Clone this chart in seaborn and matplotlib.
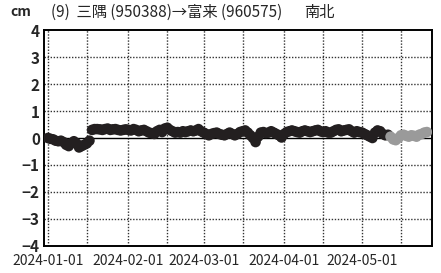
import pandas as pd
import numpy as np
import matplotlib.pyplot as plt
import seaborn as sns

sns.set_theme(style="white")
plt.rcParams['font.family'] = ['Noto Sans CJK JP', 'DejaVu Sans']

# daily displacement (cm), north-south component
black_vals = [0.00, -0.03, -0.05, -0.10, -0.12, -0.10, -0.15, -0.25, -0.30, -0.20, -0.12, -0.20, -0.35, -0.30, -0.25, -0.20, -0.10,
              0.30, 0.33, 0.33, 0.32, 0.30, 0.33, 0.35, 0.30, 0.32, 0.33, 0.30, 0.28, 0.30, 0.32,
              0.30, 0.28, 0.33, 0.30, 0.25, 0.28, 0.30, 0.25, 0.20, 0.18, 0.15, 0.25, 0.30, 0.22, 0.35,
              0.38, 0.30, 0.25, 0.20, 0.22, 0.20, 0.25, 0.22, 0.25, 0.28, 0.25, 0.28,
              0.33, 0.25, 0.20, 0.15, 0.10, 0.15, 0.18, 0.20, 0.15, 0.12, 0.10, 0.15, 0.20, 0.15, 0.10, 0.15, 0.22, 0.25,
              0.28, 0.20, 0.10, 0.00, -0.15, 0.05, 0.20, 0.22, 0.18, 0.20, 0.25, 0.20, 0.15, 0.10, 0.02,
              0.15, 0.22, 0.25, 0.28, 0.25, 0.22, 0.20, 0.25, 0.28, 0.25, 0.22, 0.25, 0.28, 0.30, 0.25, 0.22, 0.25, 0.20,
              0.20, 0.25, 0.30, 0.32, 0.25, 0.28, 0.30, 0.32, 0.25, 0.20, 0.25, 0.22, 0.20, 0.15, 0.10, 0.05, 0.00, 0.20,
              0.28, 0.25, 0.15, 0.10, 0.12]
gray_vals = [0.05, -0.05, -0.08, 0.00, 0.10, 0.12, 0.08, 0.05, 0.10, 0.08, 0.05, 0.12, 0.15, 0.20, 0.22]

start = "2024-01-01"
tick_labels = ["2024-01-01", "2024-02-01", "2024-03-01", "2024-04-01", "2024-05-01"]
grid_dates = ["2024-01-01", "2024-01-16", "2024-02-01", "2024-02-16", "2024-03-01",
              "2024-03-16", "2024-04-01", "2024-04-16", "2024-05-01", "2024-05-16"]
y_ticks = [-4, -3, -2, -1, 0, 1, 2, 3, 4]
y_grid = [-3, -2, -1, 1, 2, 3]

dates = pd.date_range(start, periods=len(black_vals) + len(gray_vals), freq="D")
df = pd.DataFrame({
    "date": dates,
    "value": black_vals + gray_vals,
    "kind": ["final"] * len(black_vals) + ["rapid"] * len(gray_vals),
})

fig = plt.figure(figsize=(4.41, 2.73), dpi=100)
ax = fig.add_axes([0.0998, 0.099, 0.88, 0.791])

sns.scatterplot(data=df, x="date", y="value", hue="kind",
                palette={"final": "#231f20", "rapid": "#9a9a9a"},
                s=58, edgecolor="none", legend=False, ax=ax, zorder=3)

# dotted grid: 1st and 16th of each month, every cm
dot = dict(color="#333333", lw=1.0, ls=(0, (1, 1.2)), zorder=1)
for g in pd.to_datetime(grid_dates):
    ax.axvline(g, **dot)
for y in y_grid:
    ax.axhline(y, **dot)
ax.axhline(0, color="black", lw=1.0, zorder=2)

ax.set_xlim(pd.Timestamp("2023-12-30 12:00"), pd.Timestamp("2024-05-28"))
ax.set_ylim(-4, 4)
ax.set_yticks(y_ticks)
ax.set_yticklabels([f"{v}".replace("-", "\u2212") for v in y_ticks], fontsize=11, fontweight="bold")
ax.set_xticks(pd.to_datetime(tick_labels))
ax.set_xticklabels(tick_labels, fontsize=10)
ax.tick_params(axis="both", which="both", length=0)
ax.tick_params(axis="x", pad=6)
ax.tick_params(axis="y", pad=3)
ax.set_xlabel("")
ax.set_ylabel("")
for sp in ax.spines.values():
    sp.set_color("black")
    sp.set_linewidth(1.4)

fig.text(0.023, 0.955, "cm", fontsize=10, fontweight="bold", va="center")
fig.text(0.115, 0.955, "(9)  三隅 (950388)→富来 (960575)", fontsize=11, va="center")
fig.text(0.69, 0.955, "南北", fontsize=11, va="center")

fig.savefig("out.png", dpi=100)
